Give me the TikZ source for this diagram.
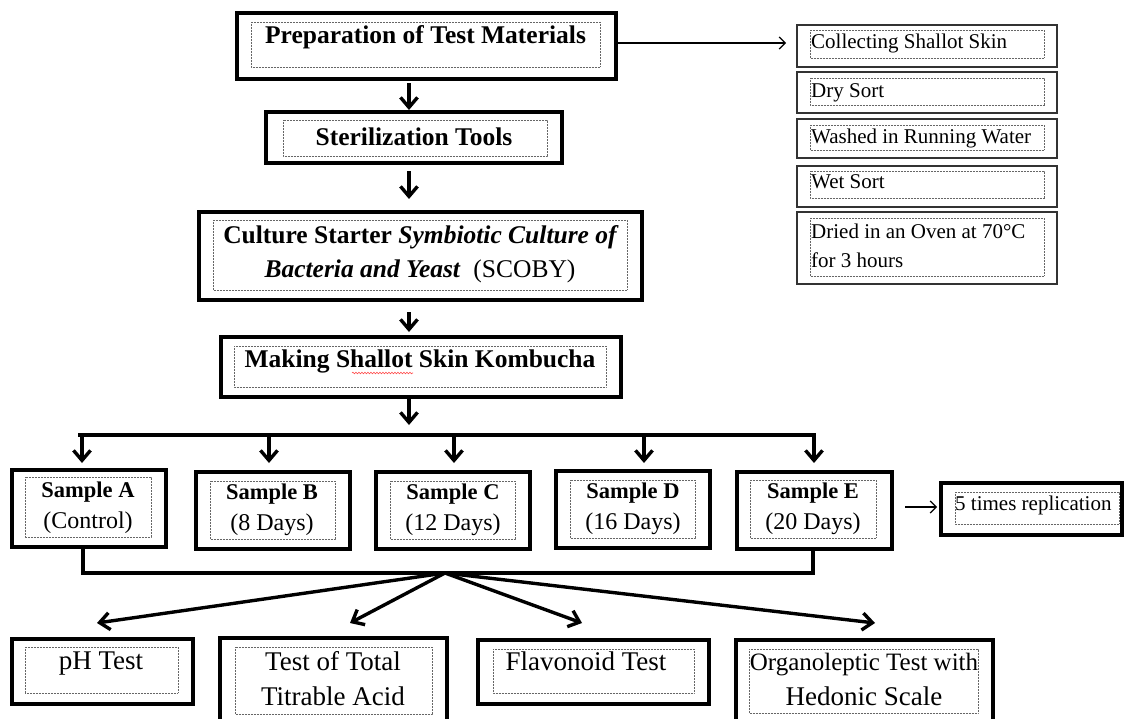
\documentclass[tikz,border=0pt]{standalone}
\usepackage{fontspec}
\setmainfont{Liberation Serif}
\usetikzlibrary{arrows.meta,decorations.pathmorphing}
\begin{document}
\begin{tikzpicture}[x=1pt,y=-1pt,
  obox/.style={draw=black,line width=3.8pt,inner sep=0pt,outer sep=0pt},
  sbox/.style={draw=black,line width=3.4pt,inner sep=0pt,outer sep=0pt},
  rbox/.style={draw=black!80,line width=1.4pt,inner sep=0pt,outer sep=0pt},
  dots/.style={draw=black!60,line width=0.8pt,dash pattern=on 0.9pt off 0.6pt},
  mtxt/.style={inner sep=0pt,anchor=base,font=\fontsize{25.5}{30}\selectfont\bfseries},
  stxt/.style={inner sep=0pt,anchor=base,font=\fontsize{22.5}{26}\selectfont\bfseries},
  ptxt/.style={inner sep=0pt,anchor=base,font=\fontsize{24}{28}\selectfont},
  btxt/.style={inner sep=0pt,anchor=base,font=\fontsize{27}{32}\selectfont},
  rtxt/.style={inner sep=0pt,anchor=base west,font=\fontsize{21}{25}\selectfont},
  arr/.style={line width=3.4pt,-{Straight Barb[length=10pt,width=17pt]}},
  bar/.style={line width=3.4pt,line cap=rect,line join=miter},
  thinarr/.style={line width=1.2pt,-{Straight Barb[length=6pt,width=12pt]}}]
\fill[white] (0,0) rectangle (1125,718);
\useasboundingbox (0,0) rectangle (1125,718);

% ---- main column ----
\node[obox,minimum width=379pt,minimum height=66pt] (b1) at (426.5,46) {};
\draw[dots] (251,22) rectangle (600,67);
\node[mtxt] (b1t) at (425.5,43) {Preparation of Test Materials};

\node[obox,minimum width=296pt,minimum height=51pt] (b2) at (414,137.5) {};
\draw[dots] (283,120) rectangle (547,156);
\node[mtxt] (b2t) at (414,145) {Sterilization Tools};

\node[obox,minimum width=443pt,minimum height=88pt] (b3) at (420.5,256) {};
\draw[dots] (213,220) rectangle (627,290);
\node[mtxt] (b3a) at (421,243) {Culture Starter \textit{Symbiotic Culture of}};
\node[mtxt] (b3b) at (420,277) {\textit{Bacteria and Yeast}\ \ \mdseries(SCOBY)};

\node[obox,minimum width=400pt,minimum height=60pt] (b4) at (421,367) {};
\draw[dots] (234,346) rectangle (606,387);
\node[mtxt] (b4t) at (420,367) {Making Shallot Skin Kombucha};
\draw[red!70,line width=0.6pt,decorate,decoration={snake,amplitude=0.8pt,segment length=3pt}] (352,373) -- (413,373);

% ---- right list ----
\node[rbox,minimum width=260pt,minimum height=42pt] (r1) at (927,46) {};
\draw[dots] (810,30) rectangle (1044,58);
\node[rtxt] (r1t) at (811,48) {Collecting Shallot Skin};
\node[rbox,minimum width=260pt,minimum height=41pt] (r2) at (927,92.5) {};
\draw[dots] (810,78) rectangle (1044,105);
\node[rtxt] (r2t) at (811,97) {Dry Sort};
\node[rbox,minimum width=260pt,minimum height=39pt] (r3) at (927,138.5) {};
\draw[dots] (810,125) rectangle (1044,150);
\node[rtxt] (r3t) at (811,143) {Washed in Running Water};
\node[rbox,minimum width=260pt,minimum height=41pt] (r4) at (927,186.5) {};
\draw[dots] (810,171) rectangle (1044,198);
\node[rtxt] (r4t) at (811,188) {Wet Sort};
\node[rbox,minimum width=260pt,minimum height=72pt] (r5) at (927,248) {};
\draw[dots] (810,218) rectangle (1044,276);
\node[rtxt] (r5a) at (811,238) {Dried in an Oven at 70°C};
\node[rtxt] (r5b) at (811,267) {for 3 hours};

% ---- samples ----
\node[sbox,minimum width=154pt,minimum height=77pt] (sA) at (89,508.5) {};
\draw[dots] (25,477) rectangle (151,537);
\node[stxt] (sAt) at (88,497) {Sample A};
\node[ptxt] (sAp) at (88,528) {(Control)};

\node[sbox,minimum width=154pt,minimum height=77pt] (sB) at (273,510.5) {};
\draw[dots] (210,481) rectangle (335,539);
\node[stxt] (sBt) at (272,499) {Sample B};
\node[ptxt] (sBp) at (272,530) {(8 Days)};

\node[sbox,minimum width=154pt,minimum height=77pt] (sC) at (453,510.5) {};
\draw[dots] (390,481) rectangle (515,539);
\node[stxt] (sCt) at (453,499) {Sample C};
\node[ptxt] (sCp) at (453,530) {(12 Days)};

\node[sbox,minimum width=154pt,minimum height=77pt] (sD) at (633,509.5) {};
\draw[dots] (570,480) rectangle (695,538);
\node[stxt] (sDt) at (633,498) {Sample D};
\node[ptxt] (sDp) at (633,529) {(16 Days)};

\node[sbox,minimum width=155pt,minimum height=77pt] (sE) at (814.5,510.5) {};
\draw[dots] (750,480) rectangle (876,538);
\node[stxt] (sEt) at (813,498) {Sample E};
\node[ptxt] (sEp) at (813,529) {(20 Days)};

\node[sbox,minimum width=181pt,minimum height=52pt] (rep) at (1031.5,509) {};
\draw[dots] (955,492) rectangle (1119,524);
\node[rtxt] (rept) at (955,510) {5 times replication};

% ---- tests ----
\node[sbox,minimum width=181pt,minimum height=65pt] (ph) at (102.5,671.5) {};
\draw[dots] (25,647) rectangle (178,693);
\node[btxt] (pht) at (101,669) {pH Test};

\node[sbox,minimum width=227pt,minimum height=86pt] (tta) at (333.5,681) {};
\draw[dots] (235,647) rectangle (432,714);
\node[btxt] (ttaa) at (333,670) {Test of Total};
\node[btxt] (ttab) at (333,705) {Titrable Acid};

\node[sbox,minimum width=231pt,minimum height=64pt] (fl) at (593.5,672) {};
\draw[dots] (493,649) rectangle (694,693);
\node[btxt] (flt) at (586,670) {Flavonoid Test};

\node[sbox,minimum width=257pt,minimum height=84pt] (org) at (864.5,682) {};
\draw[dots] (749,649) rectangle (978,713);
\node[btxt,font=\fontsize{25}{30}\selectfont] (orga) at (864,670) {Organoleptic Test with};
\node[btxt] (orgb) at (864,705) {Hedonic Scale};

% ---- connectors ----
\coordinate (ax) at (409,0);
\draw[arr,shorten <=4pt,shorten >=2pt] (b1.south -| ax) -- (b2.north -| ax);
\draw[arr,shorten <=8pt,shorten >=13pt] (b2.south -| ax) -- (b3.north -| ax);
\draw[arr,shorten <=12pt,shorten >=5pt] (b3.south -| ax) -- (b4.north -| ax);

\coordinate (tl) at (80,435);
\coordinate (tr) at (814,435);
\draw[arr,shorten >=10pt] (b4.south -| ax) -- (tl -| ax);
\draw[bar] (tl) -- (tr);
\coordinate (jA) at (82,435);
\coordinate (jB) at (269,435);
\coordinate (jC) at (454,435);
\coordinate (jD) at (644,435);
\draw[arr,shorten >=7pt] (jA) -- (jA |- sA.north);
\draw[arr,shorten >=9pt] (jB) -- (jB |- sB.north);
\draw[arr,shorten >=9pt] (jC) -- (jC |- sC.north);
\draw[arr,shorten >=8pt] (jD) -- (jD |- sD.north);
\draw[arr,shorten >=9pt] (tr) -- (tr |- sE.north);

\coordinate (bl) at (83,573);
\coordinate (br) at (813,573);
\draw[bar] (sA.south -| bl) -- (bl) -- (br) -- (sE.south -| br);

\coordinate (F) at (445,573);
\coordinate (t1) at (97,623);
\coordinate (t2) at (350,623);
\coordinate (t3) at (582,623);
\coordinate (t4) at (875,623);
\draw[arr] (F) -- (t1);
\draw[arr] (F) -- (t2);
\draw[arr] (F) -- (t3);
\draw[arr] (F) -- (t4);

\coordinate (ra) at (0,43);
\draw[thinarr,shorten >=11pt] (b1.east |- ra) -- (r1.west |- ra);
\coordinate (ry) at (0,507);
\draw[thinarr,shorten <=13pt,shorten >=4pt] (sE.east |- ry) -- (rep.west |- ry);
\end{tikzpicture}
\end{document}
